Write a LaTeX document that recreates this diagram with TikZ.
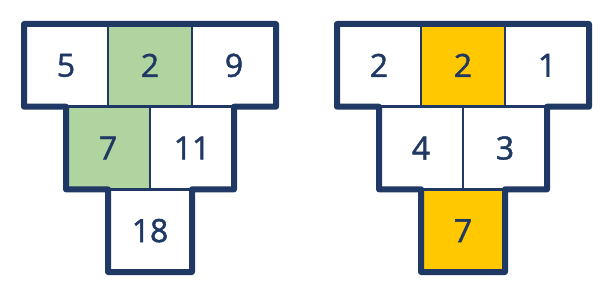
\documentclass[tikz,border=0pt]{standalone}
\usepackage{fontspec}
\setmainfont{Open Sans}
\newfontfamily\numfont[FakeBold=1.4]{Open Sans}
\definecolor{navy}{HTML}{1F3864}
\definecolor{cgreen}{HTML}{AFD4A0}
\definecolor{cyellow}{HTML}{FFC800}
\tikzset{
  cell/.style={draw=navy, line width=2.5pt, fill=white, minimum width=84pt, minimum height=82.7pt,
    inner sep=0pt, outer sep=0pt, anchor=north west, text=navy, font=\numfont\fontsize{32}{38}\selectfont},
  gcell/.style={cell, fill=cgreen},
  ycell/.style={cell, fill=cyellow},
  outline/.style={draw=navy, line width=6pt, line join=round}
}
\begin{document}
\begin{tikzpicture}[x=1pt,y=-1pt]
\useasboundingbox (0,0) rectangle (615,294);
% left pyramid
\node[cell]  (la1) at (24,24) {5};
\node[gcell] (la2) at (108,24) {2};
\node[cell]  (la3) at (192,24) {9};
\node[gcell] (lb1) at (66,106.7) {7};
\node[cell]  (lb2) at (150,106.7) {11};
\node[cell]  (lc1) at (108,189.3) {18};
\draw[outline] (la1.north west) -- (la3.north east) -- (la3.south east) -- (lb2.north east)
  -- (lb2.south east) -- (lc1.north east) -- (lc1.south east) -- (lc1.south west)
  -- (lc1.north west) -- (lb1.south west) -- (lb1.north west) -- (la1.south west) -- cycle;
% right pyramid
\node[cell]  (ra1) at (337,24) {2};
\node[ycell] (ra2) at (421,24) {2};
\node[cell]  (ra3) at (505,24) {1};
\node[cell]  (rb1) at (379,106.7) {4};
\node[cell]  (rb2) at (463,106.7) {3};
\node[ycell] (rc1) at (421,189.3) {7};
\draw[outline] (ra1.north west) -- (ra3.north east) -- (ra3.south east) -- (rb2.north east)
  -- (rb2.south east) -- (rc1.north east) -- (rc1.south east) -- (rc1.south west)
  -- (rc1.north west) -- (rb1.south west) -- (rb1.north west) -- (ra1.south west) -- cycle;
\end{tikzpicture}
\end{document}
